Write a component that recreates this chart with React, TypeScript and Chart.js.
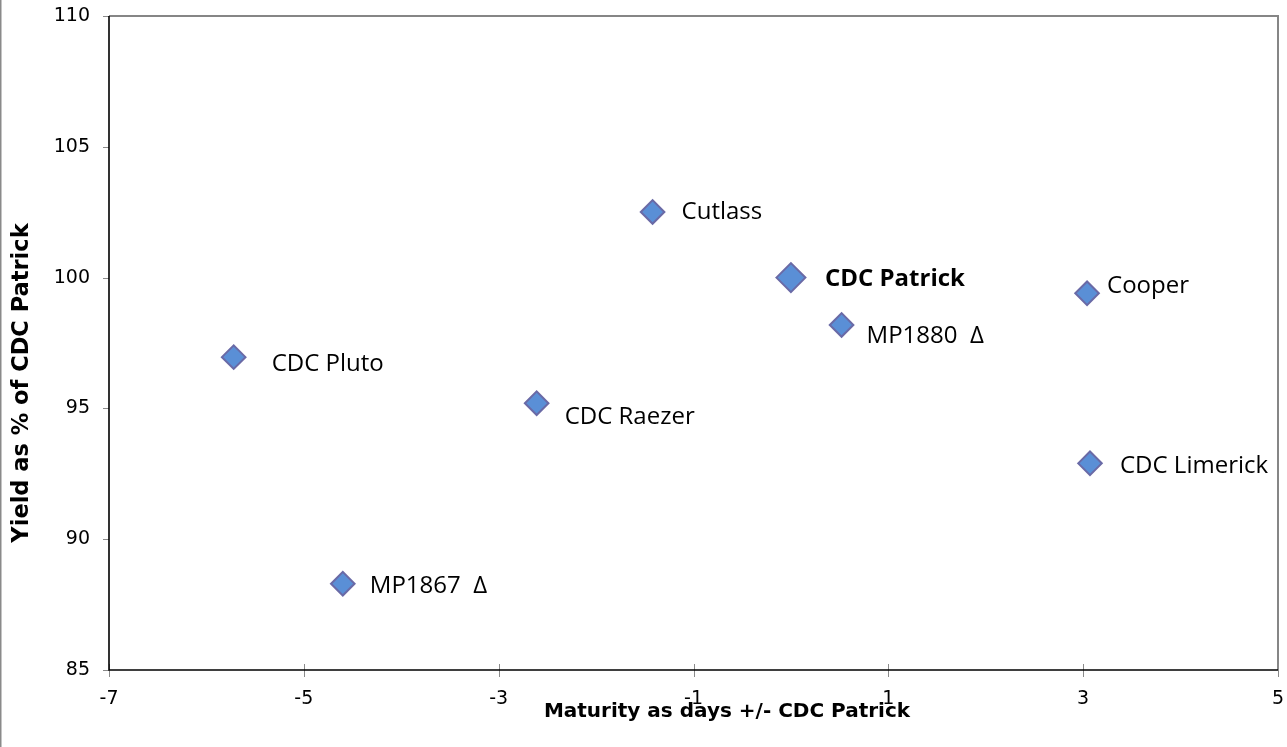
import React, { useEffect, useRef } from 'react';
import { Chart, registerables } from 'chart.js';

Chart.register(...registerables);

// ---- data ----
const varieties = ['CDC Pluto', 'MP1867  Δ', 'CDC Raezer', 'Cutlass', 'CDC Patrick', 'MP1880  Δ', 'Cooper', 'CDC Limerick'];
const maturity = [-5.72, -4.6, -2.61, -1.42, 0, 0.52, 3.04, 3.07];
const yieldPct = [96.96, 88.3, 95.2, 102.51, 100, 98.19, 99.4, 92.9];
const xTicks = [-7, -5, -3, -1, 1, 3, 5];
const yTicks = [85, 90, 95, 100, 105, 110];
const highlight = 'CDC Patrick';
const xTitle = 'Maturity as days +/- CDC Patrick';
const yTitle = 'Yield as % of CDC Patrick';

// label placement relative to each marker (px)
const labelDx = [38, 27, 28, 29, 34, 25, 20, 30];
const labelDy = [7, 2, 13.5, 0.5, 2, 11.5, -7.5, 3];

const AXIS_FONT = 'DejaVu Sans';
const LABEL_FONT = '"Open Sans"';
const W = 1287;
const H = 747;

const zeroPad = (s: any) => {
  s.paddingTop = 0;
  s.paddingBottom = 0;
  s.paddingLeft = 0;
  s.paddingRight = 0;
};

const framePlugin = {
  id: 'frame',
  afterDraw(chart: any) {
    const { ctx, chartArea: a, scales } = chart;
    const xs = scales.x;
    const ys = scales.y;
    ctx.save();
    // outer left border
    ctx.strokeStyle = '#8a8a8a';
    ctx.lineWidth = 2;
    ctx.beginPath();
    ctx.moveTo(0.5, 0);
    ctx.lineTo(0.5, chart.height);
    ctx.stroke();
    // top & right plot border
    ctx.strokeStyle = '#868686';
    ctx.lineWidth = 2;
    ctx.beginPath();
    ctx.moveTo(a.left, a.top);
    ctx.lineTo(a.right, a.top);
    ctx.lineTo(a.right, a.bottom);
    ctx.stroke();
    // ticks
    ctx.strokeStyle = '#8a8a8a';
    ctx.lineWidth = 1;
    ctx.beginPath();
    yTicks.forEach((v) => {
      const y = Math.round(ys.getPixelForValue(v)) + 0.5;
      ctx.moveTo(a.left - 6, y);
      ctx.lineTo(a.left, y);
    });
    xTicks.forEach((v) => {
      const x = Math.round(xs.getPixelForValue(v)) + 0.5;
      ctx.moveTo(x, a.bottom - 6);
      ctx.lineTo(x, a.bottom + 7);
    });
    ctx.stroke();
    // axes
    ctx.strokeStyle = '#000000';
    ctx.lineWidth = 1.6;
    ctx.beginPath();
    ctx.moveTo(a.left, a.top);
    ctx.lineTo(a.left, a.bottom);
    ctx.lineTo(a.right, a.bottom);
    ctx.stroke();
    // axis titles
    ctx.fillStyle = '#000000';
    ctx.textAlign = 'center';
    ctx.textBaseline = 'middle';
    ctx.font = `bold 20px ${AXIS_FONT}`;
    ctx.fillText(xTitle, 727, 712);
    ctx.translate(22, 383);
    ctx.rotate(-Math.PI / 2);
    ctx.font = `bold 22.5px ${AXIS_FONT}`;
    ctx.fillText(yTitle, 0, 0);
    ctx.restore();
  },
};

const labelPlugin = {
  id: 'pointLabels',
  afterDatasetsDraw(chart: any) {
    const { ctx } = chart;
    const meta = chart.getDatasetMeta(0);
    ctx.save();
    ctx.fillStyle = '#000000';
    ctx.textAlign = 'left';
    ctx.textBaseline = 'middle';
    meta.data.forEach((pt: any, i: number) => {
      const bold = varieties[i] === highlight;
      ctx.font = `${bold ? 'bold ' : ''}24px ${LABEL_FONT}`;
      ctx.fillText(varieties[i], pt.x + labelDx[i], pt.y + labelDy[i]);
    });
    ctx.restore();
  },
};

export default function App() {
  const ref = useRef<HTMLCanvasElement | null>(null);

  useEffect(() => {
    if (!ref.current) return;
    const chart = new Chart(ref.current, {
      type: 'scatter',
      data: {
        datasets: [
          {
            label: 'Varieties',
            data: maturity.map((x, i) => ({ x, y: yieldPct[i] })),
            pointStyle: 'rectRot',
            pointRadius: (c: any) => (varieties[c.dataIndex] === highlight ? 14.5 : 11.8),
            pointHoverRadius: (c: any) => (varieties[c.dataIndex] === highlight ? 14.5 : 11.8),
            backgroundColor: '#5a8fd6',
            borderColor: '#6a6aa6',
            borderWidth: 2,
          },
        ],
      },
      options: {
        animation: false,
        responsive: false,
        maintainAspectRatio: false,
        devicePixelRatio: 1,
        layout: { autoPadding: false, padding: { top: 16, right: 9, left: 0, bottom: 0 } },
        plugins: {
          legend: { display: false },
          tooltip: { enabled: false },
          title: { display: false },
        },
        scales: {
          x: {
            type: 'linear',
            min: -7,
            max: 5,
            afterBuildTicks: (s: any) => {
              s.ticks = xTicks.map((v) => ({ value: v }));
            },
            afterFit: (s: any) => {
              s.height = 77;
              zeroPad(s);
            },
            grid: { display: false, drawTicks: false },
            border: { display: false },
            ticks: {
              padding: 18,
              color: '#000000',
              font: { family: AXIS_FONT, size: 19 },
              maxRotation: 0,
            },
            title: { display: false },
          },
          y: {
            type: 'linear',
            min: 85,
            max: 110,
            afterBuildTicks: (s: any) => {
              s.ticks = yTicks.map((v) => ({ value: v }));
            },
            afterFit: (s: any) => {
              s.width = 109;
              zeroPad(s);
            },
            grid: { display: false, drawTicks: false },
            border: { display: false },
            ticks: {
              padding: 19,
              color: '#000000',
              font: { family: AXIS_FONT, size: 19 },
            },
            title: { display: false },
          },
        },
      },
      plugins: [framePlugin, labelPlugin],
    });
    return () => chart.destroy();
  }, []);

  return (
    <div style={{ position: 'fixed', left: 0, top: 0, width: W, height: H, background: '#ffffff' }}>
      <canvas ref={ref} width={W} height={H} style={{ display: 'block', width: W, height: H }} />
    </div>
  );
}
